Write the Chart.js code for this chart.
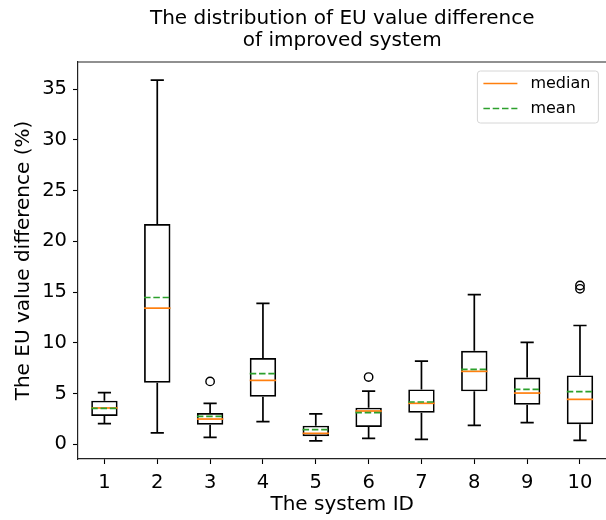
<!DOCTYPE html>
<html>
<head>
<meta charset="utf-8">
<script src="https://cdn.jsdelivr.net/npm/chart.js@4.4.1/dist/chart.umd.min.js"></script>
<style>
  body { margin: 0; background: #fff; }
  #wrap { width: 606px; height: 520px; overflow: hidden; }
</style>
</head>
<body>
<div id="wrap"><canvas id="boxChart" width="612" height="520"></canvas></div>
<script>
const systemIds = [1, 2, 3, 4, 5, 6, 7, 8, 9, 10];
const whiskerLow = [2.03, 1.12, 0.69, 2.23, 0.33, 0.59, 0.49, 1.87, 2.13, 0.39];
const quartile1 = [2.79, 6.07, 1.93, 4.69, 0.79, 1.71, 3.12, 5.22, 3.90, 1.97];
const medians = [3.58, 13.42, 2.49, 6.30, 1.08, 3.28, 4.04, 7.19, 5.05, 4.43];
const means = [3.55, 14.47, 2.76, 6.96, 1.44, 3.12, 4.17, 7.38, 5.41, 5.19];
const quartile3 = [4.30, 21.70, 3.08, 8.50, 1.84, 3.61, 5.41, 9.22, 6.59, 6.79];
const whiskerHigh = [5.09, 35.90, 4.04, 13.88, 2.99, 5.25, 8.20, 14.76, 10.04, 11.71];
const outliers = [[], [], [6.2], [], [], [6.63], [], [], [], [15.65, 15.32]];
const yTicks = [0, 5, 10, 15, 20, 25, 30, 35];
const legendLabels = ['median', 'mean'];

const FONT = 'DejaVu Sans';
const MEDIAN_COLOR = '#ff7f0e';
const MEAN_COLOR = '#2ca02c';
const MEAN_DASH = [6.5, 2.8];

// axis limits like matplotlib: data range plus 5% margin
const allValues = whiskerLow.concat(whiskerHigh, outliers.flat());
const dataMin = Math.min(...allValues);
const dataMax = Math.max(...allValues);
const margin = (dataMax - dataMin) * 0.05;

const boxData = systemIds.map((id, i) => ({ x: id, y: [quartile1[i], quartile3[i]] }));
const outlierData = [];
outliers.forEach((list, i) => list.forEach(v => outlierData.push({ x: systemIds[i], y: v })));

const boxPlugin = {
  id: 'boxExtras',
  afterDatasetsDraw(chart) {
    const ctx = chart.ctx;
    const xs = chart.scales.x;
    const ys = chart.scales.y;
    const area = chart.chartArea;
    const half = (xs.getPixelForValue(1.25) - xs.getPixelForValue(1));
    const capHalf = half / 2;

    ctx.save();
    ctx.lineWidth = 1.7;
    systemIds.forEach((id, i) => {
      const cx = xs.getPixelForValue(id);
      // whiskers
      ctx.strokeStyle = '#000';
      ctx.setLineDash([]);
      ctx.beginPath();
      ctx.moveTo(cx, ys.getPixelForValue(quartile1[i]));
      ctx.lineTo(cx, ys.getPixelForValue(whiskerLow[i]));
      ctx.moveTo(cx, ys.getPixelForValue(quartile3[i]));
      ctx.lineTo(cx, ys.getPixelForValue(whiskerHigh[i]));
      ctx.moveTo(cx - capHalf, ys.getPixelForValue(whiskerLow[i]));
      ctx.lineTo(cx + capHalf, ys.getPixelForValue(whiskerLow[i]));
      ctx.moveTo(cx - capHalf, ys.getPixelForValue(whiskerHigh[i]));
      ctx.lineTo(cx + capHalf, ys.getPixelForValue(whiskerHigh[i]));
      ctx.stroke();
      // median
      ctx.strokeStyle = MEDIAN_COLOR;
      ctx.beginPath();
      ctx.moveTo(cx - half, ys.getPixelForValue(medians[i]));
      ctx.lineTo(cx + half, ys.getPixelForValue(medians[i]));
      ctx.stroke();
      // mean
      ctx.strokeStyle = MEAN_COLOR;
      ctx.setLineDash(MEAN_DASH);
      ctx.beginPath();
      ctx.moveTo(cx - half, ys.getPixelForValue(means[i]));
      ctx.lineTo(cx + half, ys.getPixelForValue(means[i]));
      ctx.stroke();
    });
    ctx.restore();

    // top spine
    ctx.save();
    ctx.strokeStyle = '#222';
    ctx.lineWidth = 1.2;
    ctx.beginPath();
    ctx.moveTo(area.left, area.top);
    ctx.lineTo(area.right, area.top);
    ctx.stroke();

    // title
    ctx.fillStyle = '#000';
    ctx.font = '20px ' + FONT;
    ctx.textAlign = 'center';
    ctx.textBaseline = 'alphabetic';
    const tx = (area.left + area.right) / 2;
    ctx.fillText('The distribution of EU value difference', tx, 24);
    ctx.fillText('of improved system', tx, 45.5);

    // legend
    const lw = 121, lh = 52;
    const lx = area.right - 8 - lw, ly = area.top + 9;
    ctx.beginPath();
    ctx.roundRect(lx, ly, lw, lh, 3);
    ctx.fillStyle = 'rgba(255,255,255,0.8)';
    ctx.fill();
    ctx.strokeStyle = '#d6d6d6';
    ctx.lineWidth = 1;
    ctx.stroke();
    const colors = [MEDIAN_COLOR, MEAN_COLOR];
    ctx.font = '16px ' + FONT;
    ctx.textAlign = 'left';
    ctx.textBaseline = 'middle';
    legendLabels.forEach((label, k) => {
      const y = ly + 12.5 + k * 25;
      ctx.strokeStyle = colors[k];
      ctx.lineWidth = 1.7;
      ctx.setLineDash(k === 1 ? MEAN_DASH : []);
      ctx.beginPath();
      ctx.moveTo(lx + 6, y);
      ctx.lineTo(lx + 40, y);
      ctx.stroke();
      ctx.fillStyle = '#000';
      ctx.fillText(label, lx + 53, y);
    });
    ctx.restore();
  }
};

const ctx = document.getElementById('boxChart').getContext('2d');
new Chart(ctx, {
  type: 'bar',
  data: {
    datasets: [{
      label: 'box',
      data: boxData,
      backgroundColor: 'rgba(0,0,0,0)',
      borderColor: '#000',
      borderWidth: 1.7,
      borderSkipped: false,
      barPercentage: 0.5,
      categoryPercentage: 1
    }, {
      type: 'scatter',
      label: 'outliers',
      data: outlierData,
      pointStyle: 'circle',
      pointRadius: 4.2,
      backgroundColor: 'rgba(0,0,0,0)',
      borderColor: '#000',
      borderWidth: 1.4
    }]
  },
  plugins: [boxPlugin],
  options: {
    responsive: false,
    animation: false,
    events: [],
    layout: { padding: { top: 62, right: 1, bottom: 0, left: 0 } },
    plugins: { legend: { display: false }, tooltip: { enabled: false } },
    scales: {
      x: {
        type: 'linear',
        min: 0.5,
        max: 10.5,
        offset: false,
        afterFit: (scale) => { scale.height = 61; },
        afterBuildTicks: (scale) => { scale.ticks = systemIds.map(v => ({ value: v })); },
        grid: { display: true, drawOnChartArea: false, offset: false, tickLength: 5, tickColor: '#000', tickWidth: 1.1 },
        border: { display: true, color: '#222', width: 1.2 },
        ticks: { color: '#000', padding: 7, maxRotation: 0, font: { family: FONT, size: 19.5 } },
        title: {
          display: true,
          text: 'The system ID',
          color: '#000',
          font: { family: FONT, size: 20, lineHeight: 1.2 },
          padding: { top: 0, bottom: 3 }
        }
      },
      y: {
        type: 'linear',
        min: dataMin - margin,
        max: dataMax + margin,
        afterFit: (scale) => { scale.width = 78; },
        afterBuildTicks: (scale) => { scale.ticks = yTicks.map(v => ({ value: v })); },
        grid: { display: true, drawOnChartArea: false, tickLength: 5, tickColor: '#000', tickWidth: 1.1 },
        border: { display: true, color: '#222', width: 1.2 },
        ticks: { color: '#000', padding: 6, font: { family: FONT, size: 19.5 } },
        title: {
          display: true,
          text: 'The EU value difference (%)',
          color: '#000',
          font: { family: FONT, size: 20, lineHeight: 1.2 },
          padding: { top: 12, bottom: 0 }
        }
      }
    }
  }
});
</script>
</body>
</html>
